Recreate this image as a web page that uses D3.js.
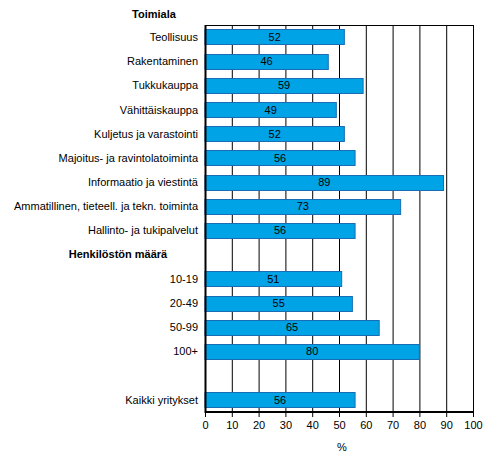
<!DOCTYPE html>
<html><head><meta charset="utf-8">
<script src="https://cdn.jsdelivr.net/npm/d3@7"></script>
<style>body{margin:0;background:#fff}svg{display:block}text{font-family:"Liberation Sans",Arial,sans-serif}</style>
</head><body>
<svg id="c" width="493" height="473"></svg>
<script>
const categories = ["Teollisuus","Rakentaminen","Tukkukauppa","Vähittäiskauppa","Kuljetus ja varastointi","Majoitus- ja ravintolatoiminta","Informaatio ja viestintä","Ammatillinen, tieteell. ja tekn. toiminta","Hallinto- ja tukipalvelut","__h2","10-19","20-49","50-99","100+","__blank","Kaikki yritykset"];
const values = [52,46,59,49,52,56,89,73,56,null,51,55,65,80,null,56];
const headers = [{text:"Toimiala", x:154, y:14},{text:"Henkilöstön määrä", x:118, y:254}];
const xTicks = [0,10,20,30,40,50,60,70,80,90,100];
const xTitle = "%";

const svg = d3.select("#c");
const L=205, R=473, T=25, B=412;
const x = d3.scaleLinear().domain([0,100]).range([L,R]);
const y = d3.scaleBand().domain(categories).range([T,B]).paddingInner(0.37).paddingOuter(0.185);

// grid
svg.append("g").selectAll("line").data(xTicks.slice(1)).join("line")
  .attr("x1",d=>x(d)+0.5).attr("x2",d=>x(d)+0.5).attr("y1",T).attr("y2",B)
  .attr("stroke","#000").attr("stroke-width",1);
svg.append("line").attr("x1",L).attr("x2",R+1).attr("y1",T+0.5).attr("y2",T+0.5).attr("stroke","#000");

// bars
const data = categories.map((c,i)=>({c,v:values[i]})).filter(d=>d.v!=null);
svg.append("g").selectAll("rect").data(data).join("rect")
  .attr("x",x(0)).attr("y",d=>Math.round(y(d.c))+0.5)
  .attr("width",d=>x(d.v)-x(0)).attr("height",Math.round(y.bandwidth()))
  .attr("fill","#00A3E6").attr("stroke","#1B6DB3").attr("stroke-width",1);
svg.append("g").selectAll("text").data(data).join("text")
  .attr("x",d=>(x(0)+x(d.v))/2).attr("y",d=>y(d.c)+y.bandwidth()/2)
  .attr("dy","0.35em").attr("text-anchor","middle").attr("font-size",11).attr("fill","#000")
  .text(d=>d.v);

// left axis line
svg.append("line").attr("x1",L+0.5).attr("x2",L+0.5).attr("y1",T).attr("y2",B+1).attr("stroke","#000").attr("stroke-width",2);

// category labels
svg.append("g").selectAll("text").data(categories.filter(c=>!c.startsWith("__"))).join("text")
  .attr("x",198).attr("y",d=>y(d)+y.bandwidth()/2).attr("dy","0.35em")
  .attr("text-anchor","end").attr("font-size",11).attr("fill","#000").text(d=>d);

headers.forEach(h=>svg.append("text").attr("x",h.x).attr("y",h.y).attr("dy","0.35em")
  .attr("text-anchor","middle").attr("font-size",11).attr("font-weight","bold").text(h.text));

// bottom axis
const ax = svg.append("g").attr("transform",`translate(0,${B})`)
  .call(d3.axisBottom(x).tickValues(xTicks).tickSize(5).tickPadding(4).tickFormat(d3.format("d")));
ax.select(".domain").attr("stroke-width",2).attr("d",`M${L},0H${R+1}`);
ax.selectAll(".tick line").attr("stroke","#000");
ax.selectAll(".tick text").attr("font-size",11).attr("font-family","Liberation Sans, Arial, sans-serif").attr("fill","#000");

svg.append("text").attr("x",(L+R)/2+3).attr("y",447).attr("dy","0.35em").attr("text-anchor","middle").attr("font-size",11).text(xTitle);
</script>
</body></html>
